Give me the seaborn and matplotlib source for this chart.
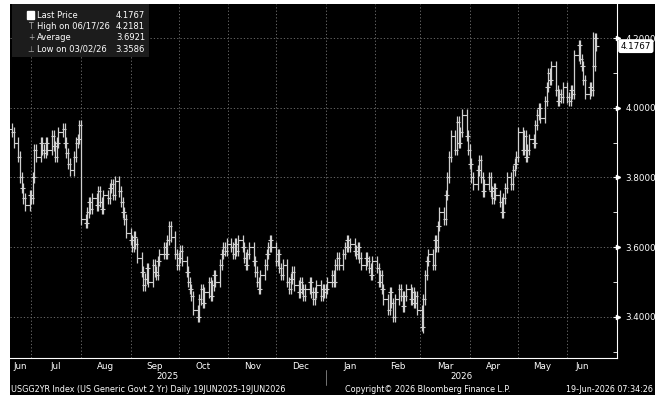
import numpy as np
import pandas as pd
import matplotlib
matplotlib.use("Agg")
import matplotlib.pyplot as plt
import matplotlib.dates as mdates
import seaborn as sns

months = ["2025-06", "2025-07", "2025-08", "2025-09", "2025-10", "2025-11", "2025-12",
          "2026-01", "2026-02", "2026-03", "2026-04", "2026-05", "2026-06"]
month_labels = ["Jun", "Jul", "Aug", "Sep", "Oct", "Nov", "Dec", "Jan", "Feb", "Mar", "Apr", "May", "Jun"]
close_jun25 = [3.93, 3.90, 3.86, 3.80, 3.77, 3.74, 3.72, 3.75]
close_jul25 = [3.74, 3.80, 3.88, 3.86, 3.90, 3.88, 3.87, 3.90, 3.88, 3.92, 3.89, 3.86, 3.90, 3.93, 3.94, 3.90, 3.87, 3.84, 3.82, 3.86, 3.90, 3.91, 3.95]
close_aug25 = [3.68, 3.67, 3.70, 3.73, 3.71, 3.74, 3.72, 3.76, 3.73, 3.71, 3.75, 3.74, 3.77, 3.78, 3.75, 3.79, 3.76, 3.73, 3.70, 3.68, 3.64]
close_sep25 = [3.62, 3.60, 3.63, 3.61, 3.57, 3.53, 3.49, 3.51, 3.54, 3.50, 3.55, 3.53, 3.52, 3.56, 3.58, 3.60, 3.58, 3.62, 3.66, 3.63, 3.58, 3.55]
close_oct25 = [3.57, 3.59, 3.56, 3.53, 3.50, 3.48, 3.46, 3.42, 3.40, 3.45, 3.48, 3.44, 3.47, 3.50, 3.46, 3.49, 3.52, 3.50, 3.55, 3.58, 3.60, 3.59, 3.61]
close_nov25 = [3.60, 3.58, 3.61, 3.59, 3.62, 3.60, 3.57, 3.55, 3.58, 3.60, 3.56, 3.53, 3.50, 3.48, 3.52, 3.55, 3.58, 3.60, 3.62, 3.60]
close_dec25 = [3.56, 3.58, 3.54, 3.52, 3.55, 3.50, 3.48, 3.51, 3.53, 3.49, 3.47, 3.50, 3.48, 3.46, 3.48, 3.50, 3.47, 3.45, 3.47, 3.49, 3.46, 3.48, 3.47]
close_jan26 = [3.48, 3.50, 3.52, 3.50, 3.55, 3.57, 3.55, 3.58, 3.60, 3.62, 3.60, 3.61, 3.59, 3.58, 3.60, 3.57, 3.55, 3.57, 3.56, 3.54, 3.52, 3.56]
close_feb26 = [3.54, 3.50, 3.52, 3.48, 3.45, 3.42, 3.47, 3.44, 3.40, 3.45, 3.48, 3.46, 3.43, 3.46, 3.48, 3.45, 3.47, 3.44, 3.46, 3.42]
close_mar26 = [3.37, 3.45, 3.52, 3.56, 3.58, 3.55, 3.62, 3.60, 3.66, 3.70, 3.68, 3.75, 3.80, 3.86, 3.92, 3.88, 3.96, 3.90, 3.93, 3.98, 3.92, 3.88]
close_apr26 = [3.84, 3.80, 3.78, 3.82, 3.85, 3.80, 3.76, 3.78, 3.80, 3.76, 3.74, 3.77, 3.75, 3.73, 3.70, 3.74, 3.77, 3.80, 3.78, 3.82, 3.84, 3.86]
close_may26 = [3.93, 3.88, 3.92, 3.86, 3.88, 3.91, 3.90, 3.95, 3.98, 4.00, 3.97, 4.02, 4.06, 4.10, 4.08, 4.12, 4.05, 4.02, 4.04, 4.03, 4.06]
close_jun26 = [4.03, 4.02, 4.05, 4.04, 4.15, 4.18, 4.14, 4.12, 4.08, 4.04, 4.06, 4.05, 4.12, 4.20, 4.1767]
closes_by_month = [close_jun25, close_jul25, close_aug25, close_sep25, close_oct25, close_nov25,
                   close_dec25, close_jan26, close_feb26, close_mar26, close_apr26, close_may26, close_jun26]
yticks = [3.4, 3.6, 3.8, 4.0, 4.2]
high_date, high_val = "2026-06-17", 4.2181
low_date, low_val = "2026-03-02", 3.3586
last_val = 4.1767

start, end = pd.Timestamp("2025-06-19"), pd.Timestamp("2026-06-19")
dates, closes = [], []
for m, vals in zip(months, closes_by_month):
    p = pd.Period(m, "M")
    d = pd.bdate_range(max(p.start_time, start), min(p.end_time.normalize(), end))
    n = min(len(d), len(vals))
    dates += list(d[:n]); closes += vals[:n]
df = pd.DataFrame({"date": dates, "close": closes})
df["open"] = df["close"].shift(1).fillna(df["close"].iloc[0] + 0.01)
df["high"] = df[["open", "close"]].max(axis=1) + 0.015
df["low"] = df[["open", "close"]].min(axis=1) - 0.015
df.loc[df.date == pd.Timestamp(high_date), "high"] = high_val
df.loc[df.date == pd.Timestamp(low_date), "low"] = low_val

sns.set_style("dark")
plt.rcParams["font.family"] = ["DejaVu Sans"]
FS = 6.3
fig = plt.figure(figsize=(6.62, 4.07), dpi=100)
fig.patch.set_facecolor("white")
fig.patches.append(plt.Rectangle((10/662, 12/407), 645/662, 391/407, transform=fig.transFigure,
                                 facecolor="black", edgecolor="none", zorder=-10))
ax = fig.add_axes([10/662, 49/407, 607/662, 354/407])
ax.set_facecolor("black")
for s in ax.spines.values():
    s.set_visible(False)
ax.spines["right"].set_visible(True); ax.spines["right"].set_color("white")
ax.spines["bottom"].set_visible(True); ax.spines["bottom"].set_color("white")

ax.vlines(df["date"], df["low"], df["high"], color="#cfcfcf", linewidth=0.9)
sns.scatterplot(data=df, x="date", y="open", marker=0, s=6, color="#cfcfcf", linewidth=0.8, ax=ax, legend=False)
sns.scatterplot(data=df, x="date", y="close", marker=1, s=6, color="#cfcfcf", linewidth=0.8, ax=ax, legend=False)

ax.set_xlim(start - pd.Timedelta(days=1.3), end + pd.Timedelta(days=13))
ax.set_ylim(3.282, 4.2976)
for y in yticks:
    ax.axhline(y, color="#777777", linestyle=(0, (1.5, 2.5)), linewidth=0.6, zorder=0)
mstarts = [pd.Period(m, "M").start_time for m in months[1:]]
for d in mstarts:
    ax.axvline(d, color="#777777", linestyle=(0, (1.5, 2.5)), linewidth=0.6, zorder=0)

ax.yaxis.tick_right()
ax.set_yticks(yticks)
ax.set_yticklabels([f"{v:.4f}" for v in yticks], color="white", fontsize=FS)
ax.set_yticks(np.arange(3.3, 4.25, 0.1), minor=True)
ax.tick_params(axis="y", which="both", direction="in", color="white", length=3, pad=6)
for y in yticks:
    ax.plot([1.002], [y], marker=">", color="white", markersize=3, transform=ax.get_yaxis_transform(), clip_on=False)
ax.set_xticks(mstarts)
ax.set_xticklabels([])
ax.tick_params(axis="x", direction="out", color="white", length=3)
ax.set_xlabel(""); ax.set_ylabel("")

bounds = [mdates.date2num(start - pd.Timedelta(days=1.3))] + [mdates.date2num(d) for d in mstarts] + [mdates.date2num(end)]
for lab, a, b in zip(month_labels, bounds[:-1], bounds[1:]):
    ax.text((a + b) / 2, -0.01, lab, color="white", fontsize=FS, ha="center", va="top",
            transform=ax.get_xaxis_transform())
jan = mdates.date2num(pd.Timestamp("2026-01-01"))
ax.text((bounds[0] + jan) / 2, -0.04, "2025", color="white", fontsize=FS, ha="center", va="top", transform=ax.get_xaxis_transform())
ax.text((jan + bounds[-1]) / 2, -0.04, "2026", color="white", fontsize=FS, ha="center", va="top", transform=ax.get_xaxis_transform())
ax.plot([jan, jan], [-0.035, -0.075], color="#888888", linewidth=0.6, transform=ax.get_xaxis_transform(), clip_on=False)

ax.text(1.006, last_val, f"{last_val:.4f}", fontsize=FS, color="black", va="center", ha="left",
        transform=ax.get_yaxis_transform(), zorder=10,
        bbox=dict(boxstyle="round,pad=0.2", facecolor="white", edgecolor="white"))

fig.patches.append(plt.Rectangle((12/662, 350/407), 137/662, 53/407, transform=fig.transFigure,
                                 facecolor="#1c1c1c", edgecolor="none"))
legend_rows = [("Last Price", "4.1767"), ("High on 06/17/26", "4.2181"), ("Average", "3.6921"), ("Low on 03/02/26", "3.3586")]
for i, (l, v) in enumerate(legend_rows):
    yy = (407 - 15 - i * 11.5) / 407
    fig.text(37/662, yy, l, color="white", fontsize=6, va="center")
    fig.text(145/662, yy, v, color="white", fontsize=6, va="center", ha="right")
fig.patches.append(plt.Rectangle((27/662, 388/407), 7/662, 8/407, transform=fig.transFigure, facecolor="white"))
fig.text(31/662, (407 - 26.5) / 407, "T", color="#aaaaaa", fontsize=5.5, va="center", ha="center")
fig.text(31/662, (407 - 38) / 407, "+", color="#aaaaaa", fontsize=5.5, va="center", ha="center")
fig.text(31/662, (407 - 49.5) / 407, "⊥", color="#aaaaaa", fontsize=5.5, va="center", ha="center")

fig.text(11/662, 17/407, "USGG2YR Index (US Generic Govt 2 Yr) Daily 19JUN2025-19JUN2026", color="white", fontsize=5.8, va="center")
fig.text(345/662, 17/407, "Copyright© 2026 Bloomberg Finance L.P.", color="white", fontsize=5.8, va="center")
fig.text(653/662, 17/407, "19-Jun-2026 07:34:26", color="white", fontsize=5.8, va="center", ha="right")

fig.savefig("out.png", dpi=100, facecolor="white")
